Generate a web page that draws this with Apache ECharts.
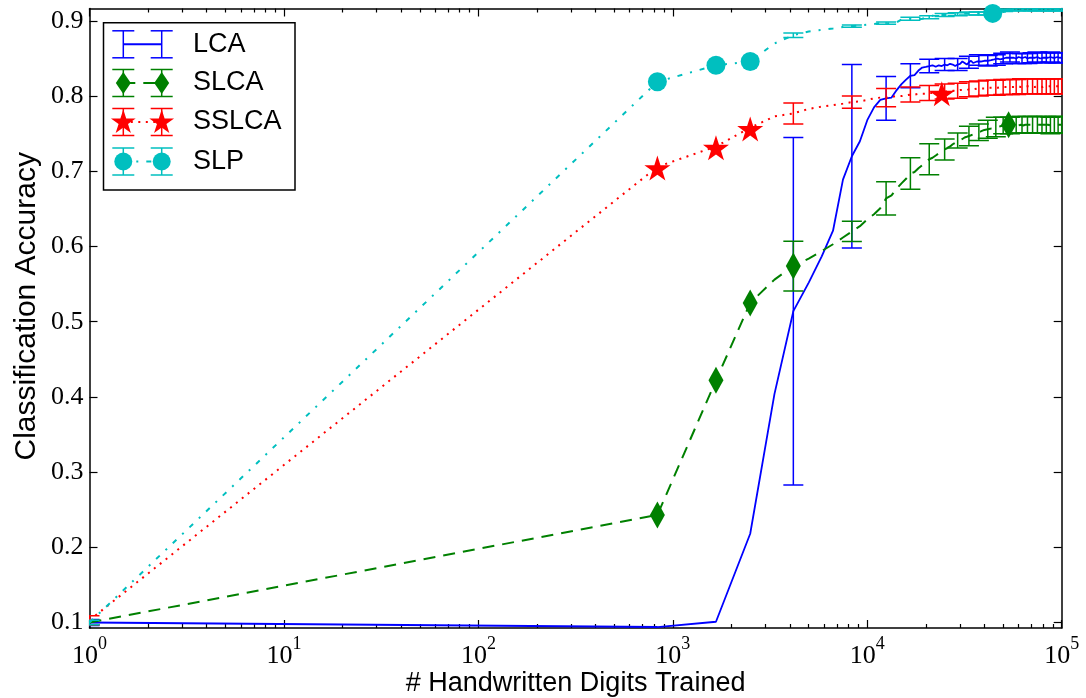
<!DOCTYPE html>
<html><head><meta charset="utf-8">
<script src="https://cdn.jsdelivr.net/npm/echarts@6/dist/echarts.min.js"></script>
<style>html,body{margin:0;padding:0;background:#fff}#c{width:1086px;height:698px}</style>
</head><body><div id="c"></div>
<script>
// ---------------- data ----------------
const seriesNames = ['LCA', 'SLCA', 'SSLCA', 'SLP'];

const trained = [
  1, 833, 1667, 2500, 3333, 4167, 5000, 5833, 6667, 7500,
  8333, 9167, 10000, 10833, 11667, 12500, 13333, 14167, 15000, 15833,
  16667, 17500, 18333, 19167, 20000, 20833, 21667, 22500, 23333, 24167,
  25000, 25833, 26667, 27500, 28333, 29167, 30000, 30833, 31667, 32500,
  33333, 34167, 35000, 35833, 36667, 37500, 38333, 39167, 40000, 40833,
  41667, 42500, 43333, 44167, 45000, 45833, 46667, 47500, 48333, 49167,
  50000, 50833, 51667, 52500, 53333, 54167, 55000, 55833, 56667, 57500,
  58333, 59167, 60000, 60833, 61667, 62500, 63333, 64167, 65000, 65833,
  66667, 67500, 68333, 69167, 70000, 70833, 71667, 72500, 73333, 74167,
  75000, 75833, 76667, 77500, 78333, 79167, 80000, 80833, 81667, 82500,
  83333, 84167, 85000, 85833, 86667, 87500, 88333, 89167, 90000, 90833,
  91667, 92500, 93333, 94167, 95000, 95833, 96667, 97500, 98333, 99167,
  100000
];

const lcaAcc = [
  0.100, 0.094, 0.101, 0.218, 0.404, 0.514, 0.552, 0.587, 0.621, 0.689,
  0.720, 0.740, 0.768, 0.785, 0.795, 0.797, 0.798, 0.808, 0.816, 0.822,
  0.827, 0.828, 0.834, 0.838, 0.839, 0.840, 0.841, 0.839, 0.841, 0.840,
  0.842, 0.841, 0.843, 0.842, 0.840, 0.842, 0.843, 0.846, 0.844, 0.842,
  0.845, 0.847, 0.844, 0.843, 0.846, 0.848, 0.846, 0.845, 0.847, 0.849,
  0.847, 0.846, 0.848, 0.850, 0.849, 0.848, 0.850, 0.851, 0.849, 0.850,
  0.850, 0.851, 0.851, 0.850, 0.851, 0.852, 0.851, 0.850, 0.851, 0.851,
  0.850, 0.851, 0.852, 0.851, 0.851, 0.850, 0.851, 0.851, 0.852, 0.851,
  0.850, 0.851, 0.851, 0.852, 0.851, 0.851, 0.850, 0.851, 0.851, 0.851,
  0.852, 0.851, 0.851, 0.850, 0.851, 0.851, 0.851, 0.852, 0.851, 0.851,
  0.851, 0.850, 0.851, 0.851, 0.851, 0.852, 0.851, 0.851, 0.851, 0.850,
  0.851, 0.851, 0.851, 0.851, 0.852, 0.851, 0.851, 0.851, 0.851, 0.851,
  0.851
];

const slcaAcc = [
  0.100, 0.243, 0.422, 0.525, 0.556, 0.574, 0.584, 0.594, 0.603, 0.612,
  0.620, 0.627, 0.636, 0.643, 0.651, 0.664, 0.668, 0.677, 0.684, 0.690,
  0.697, 0.699, 0.704, 0.708, 0.712, 0.716, 0.718, 0.721, 0.724, 0.727,
  0.729, 0.731, 0.733, 0.736, 0.738, 0.741, 0.742, 0.743, 0.745, 0.746,
  0.747, 0.748, 0.749, 0.750, 0.751, 0.752, 0.753, 0.754, 0.755, 0.755,
  0.756, 0.757, 0.757, 0.758, 0.758, 0.759, 0.759, 0.760, 0.760, 0.760,
  0.761, 0.761, 0.761, 0.761, 0.762, 0.761, 0.761, 0.762, 0.762, 0.761,
  0.762, 0.762, 0.761, 0.762, 0.762, 0.762, 0.761, 0.762, 0.762, 0.762,
  0.762, 0.761, 0.762, 0.762, 0.762, 0.762, 0.762, 0.761, 0.762, 0.762,
  0.762, 0.762, 0.762, 0.762, 0.761, 0.762, 0.762, 0.762, 0.762, 0.762,
  0.762, 0.762, 0.762, 0.762, 0.762, 0.761, 0.762, 0.762, 0.762, 0.762,
  0.762, 0.762, 0.762, 0.762, 0.762, 0.762, 0.762, 0.762, 0.762, 0.762,
  0.762
];

const sslcaAcc = [
  0.103, 0.706, 0.733, 0.758, 0.773, 0.777, 0.783, 0.786, 0.788, 0.790,
  0.792, 0.793, 0.795, 0.797, 0.798, 0.798, 0.799, 0.800, 0.800, 0.801,
  0.802, 0.802, 0.803, 0.803, 0.803, 0.804, 0.804, 0.804, 0.805, 0.805,
  0.806, 0.806, 0.806, 0.807, 0.807, 0.807, 0.808, 0.808, 0.808, 0.808,
  0.809, 0.809, 0.809, 0.809, 0.810, 0.810, 0.810, 0.810, 0.810, 0.810,
  0.811, 0.811, 0.811, 0.811, 0.811, 0.811, 0.811, 0.811, 0.812, 0.812,
  0.812, 0.812, 0.812, 0.812, 0.812, 0.812, 0.812, 0.812, 0.812, 0.812,
  0.812, 0.812, 0.813, 0.812, 0.812, 0.813, 0.812, 0.812, 0.813, 0.812,
  0.813, 0.812, 0.813, 0.813, 0.812, 0.813, 0.813, 0.812, 0.813, 0.813,
  0.813, 0.812, 0.813, 0.813, 0.813, 0.813, 0.812, 0.813, 0.813, 0.813,
  0.813, 0.813, 0.813, 0.812, 0.813, 0.813, 0.813, 0.813, 0.813, 0.813,
  0.813, 0.813, 0.813, 0.813, 0.813, 0.813, 0.813, 0.813, 0.813, 0.813,
  0.813
];

const slpAcc = [
  0.100, 0.819, 0.841, 0.846, 0.870, 0.881, 0.886, 0.888, 0.890, 0.892,
  0.893, 0.894, 0.895, 0.896, 0.897, 0.897, 0.897, 0.898, 0.902, 0.903,
  0.903, 0.902, 0.902, 0.903, 0.904, 0.905, 0.907, 0.908, 0.908, 0.908,
  0.908, 0.908, 0.909, 0.909, 0.909, 0.909, 0.909, 0.910, 0.910, 0.910,
  0.910, 0.910, 0.910, 0.910, 0.910, 0.910, 0.910, 0.910, 0.910, 0.910,
  0.910, 0.910, 0.910, 0.910, 0.913, 0.914, 0.914, 0.914, 0.914, 0.914,
  0.914, 0.914, 0.915, 0.914, 0.914, 0.915, 0.914, 0.914, 0.915, 0.914,
  0.915, 0.914, 0.915, 0.915, 0.914, 0.915, 0.915, 0.914, 0.915, 0.915,
  0.915, 0.914, 0.915, 0.915, 0.915, 0.915, 0.914, 0.915, 0.915, 0.915,
  0.915, 0.915, 0.915, 0.914, 0.915, 0.915, 0.915, 0.915, 0.915, 0.915,
  0.915, 0.915, 0.915, 0.915, 0.915, 0.915, 0.915, 0.915, 0.915, 0.915,
  0.915, 0.915, 0.915, 0.915, 0.915, 0.915, 0.915, 0.915, 0.915, 0.915,
  0.915
];

// samples that carry an error bar, and the half-width of each bar
const errIdx = [0, 5, 10, 15, 20, 25, 30, 35, 40, 45, 50, 55, 60, 65, 70, 75, 80, 85, 90, 95, 100, 105, 110, 115, 120];
const lcaErr   = [0.004, 0.231, 0.122, 0.029, 0.016, 0.009, 0.008, 0.008, 0.008, 0.007, 0.007, 0.007, 0.007, 0.0065, 0.0065, 0.0065, 0.0065, 0.0065, 0.0065, 0.0065, 0.0065, 0.0065, 0.0065, 0.0065, 0.0065];
const slcaErr  = [0.003, 0.033, 0.0135, 0.022, 0.021, 0.0205, 0.014, 0.010, 0.013, 0.011, 0.012, 0.013, 0.011, 0.011, 0.011, 0.011, 0.011, 0.011, 0.011, 0.011, 0.011, 0.011, 0.011, 0.011, 0.011];
const sslcaErr = [0.006, 0.014, 0.008, 0.012, 0.010, 0.010, 0.010, 0.010, 0.010, 0.010, 0.010, 0.010, 0.010, 0.010, 0.010, 0.010, 0.010, 0.010, 0.010, 0.010, 0.010, 0.010, 0.010, 0.010, 0.010];
const slpErr   = [0.003, 0.003, 0.0015, 0.0015, 0.002, 0.002, 0.002, 0.002, 0.002, 0.002, 0.002, 0.002, 0.0015, 0.0015, 0.0015, 0.0015, 0.0015, 0.0015, 0.0015, 0.0015, 0.0015, 0.0015, 0.0015, 0.0015, 0.0015];

// samples that carry a marker
const lcaMarks = [];
const slcaMarks = [1, 2, 3, 5, 64];
const sslcaMarks = [1, 2, 3, 29];
const slpMarks = [1, 2, 3, 53];

const yTicks = [0.1, 0.2, 0.3, 0.4, 0.5, 0.6, 0.7, 0.8, 0.9];

// ---------------- styling ----------------
const STAR = 'path://M50,0 L61.2,34.5 L97.6,34.5 L68.2,55.9 L79.4,90.5 L50,69.1 L20.6,90.5 L31.8,55.9 L2.4,34.5 L38.8,34.5 Z';
const specs = [
  {name: seriesNames[0], y: lcaAcc, err: lcaErr, marks: lcaMarks, color: '#0000ff', dash: 'solid', symbol: 'none', size: 0, off: [0, 0]},
  {name: seriesNames[1], y: slcaAcc, err: slcaErr, marks: slcaMarks, color: '#008000', dash: [12, 8], symbol: 'diamond', size: [15, 27], off: [0, 0]},
  {name: seriesNames[2], y: sslcaAcc, err: sslcaErr, marks: sslcaMarks, color: '#ff0000', dash: [2, 5.5], symbol: STAR, size: [26, 25], off: [0, 1.3]},
  {name: seriesNames[3], y: slpAcc, err: slpErr, marks: slpMarks, color: '#00bfbf', dash: [5, 8, 2, 8], symbol: 'circle', size: 19, off: [0, 0]}
];

function errRender(color) {
  return function (params, api) {
    const x = api.value(0), y = api.value(1), e = api.value(2);
    const lo = api.coord([x, y - e]), hi = api.coord([x, y + e]);
    const w = 10;
    const st = {stroke: color, lineWidth: 1.5, fill: null};
    return {type: 'group', children: [
      {type: 'line', shape: {x1: lo[0], y1: lo[1], x2: hi[0], y2: hi[1]}, style: st},
      {type: 'line', shape: {x1: lo[0] - w, y1: lo[1], x2: lo[0] + w, y2: lo[1]}, style: st},
      {type: 'line', shape: {x1: hi[0] - w, y1: hi[1], x2: hi[0] + w, y2: hi[1]}, style: st}
    ]};
  };
}

const series = [];
specs.forEach((s, si) => {
  series.push({
    type: 'custom', name: s.name + ' err', clip: true, z: 2 + si * 2,
    encode: {x: 0, y: 1},
    renderItem: errRender(s.color),
    data: errIdx.map((idx, j) => [trained[idx], s.y[idx], s.err[j]])
  });
  series.push({
    type: 'line', name: s.name, z: 3 + si * 2, clip: true,
    showSymbol: true, showAllSymbol: true,
    symbol: s.symbol === 'none' ? 'circle' : s.symbol, symbolSize: s.size, symbolOffset: s.off,
    itemStyle: {color: s.color, borderWidth: 0},
    lineStyle: {color: s.color, width: s.dash === 'solid' ? 1.8 : 2, type: s.dash, cap: 'butt'},
    data: trained.map((x, i) => s.marks.includes(i) ? [x, s.y[i]] : {value: [x, s.y[i]], symbol: 'none'}),
    emphasis: {disabled: true}
  });
});

// minor tick positions (in decades) for the log axis
const minorLog = [];
for (let d = 0; d < 5; d++) for (let m = 2; m <= 9; m++) minorLog.push(d + Math.log10(m));

const axLine = {show: true, onZero: false, lineStyle: {color: '#000', width: 1.5}};
const tickStyle = {color: '#000', width: 1.2};

// ---------------- legend (graphic) ----------------
const legRowY = [44.3, 83, 122, 161.5];
const legX = [123.3, 161.7];
const graphic = [{type: 'rect', shape: {x: 103.5, y: 22.7, width: 191.5, height: 167.3}, style: {fill: '#fff', stroke: '#000', lineWidth: 1.5}, z: 100}];
function starPoints(cx, cy, r) {
  const pts = [];
  for (let k = 0; k < 10; k++) {
    const ang = Math.PI / 2 + k * Math.PI / 5;
    const rr = k % 2 === 0 ? r : r * 0.382;
    pts.push([cx + rr * Math.cos(ang), cy - rr * Math.sin(ang)]);
  }
  return pts;
}
specs.forEach((s, i) => {
  const y = legRowY[i];
  const st = {stroke: s.color, lineWidth: 1.5, fill: null};
  graphic.push({type: 'line', shape: {x1: legX[0], y1: y, x2: legX[1], y2: y}, style: {stroke: s.color, lineWidth: 2, lineDash: s.dash === 'solid' ? null : s.dash}, z: 101});
  legX.forEach(x => {
    graphic.push({type: 'line', shape: {x1: x, y1: y - 13.5, x2: x, y2: y + 13.5}, style: st, z: 101});
    graphic.push({type: 'line', shape: {x1: x - 11, y1: y - 13.5, x2: x + 11, y2: y - 13.5}, style: st, z: 101});
    graphic.push({type: 'line', shape: {x1: x - 11, y1: y + 13.5, x2: x + 11, y2: y + 13.5}, style: st, z: 101});
    if (i === 1) graphic.push({type: 'polygon', shape: {points: [[x, y - 11], [x + 7.5, y], [x, y + 11], [x - 7.5, y]]}, style: {fill: s.color}, z: 102});
    if (i === 2) graphic.push({type: 'polygon', shape: {points: starPoints(x, y + 0.5, 13)}, style: {fill: s.color}, z: 102});
    if (i === 3) graphic.push({type: 'circle', shape: {cx: x, cy: y, r: 9}, style: {fill: s.color}, z: 102});
  });
  graphic.push({type: 'text', x: 193, y: y, style: {text: s.name, font: '27px "Liberation Sans"', fill: '#000', textVerticalAlign: 'middle', verticalAlign: 'middle'}, z: 102});
});

const chart = echarts.init(document.getElementById('c'), null, {renderer: 'canvas'});
chart.setOption({
  animation: false,
  backgroundColor: '#fff',
  textStyle: {fontFamily: 'Liberation Sans', color: '#000'},
  grid: {left: 89.5, right: 24.3, top: 8.5, bottom: 70, containLabel: false, outerBoundsMode: 'none'},
  xAxis: [
    {type: 'log', logBase: 10, min: 1, max: 100000, position: 'bottom',
      axisLine: axLine,
      axisTick: {show: true, inside: true, length: 8, lineStyle: tickStyle},
      axisLabel: {show: true, margin: 7, color: '#000', hideOverlap: false,
        formatter: v => '{a|10}{b|' + Math.round(Math.log10(v)) + '}',
        rich: {
          a: {fontFamily: 'Liberation Serif', fontSize: 26, lineHeight: 34, verticalAlign: 'bottom', color: '#000'},
          b: {fontFamily: 'Liberation Serif', fontSize: 18, lineHeight: 18, verticalAlign: 'top', color: '#000'}
        }},
      splitLine: {show: false},
      name: '# Handwritten Digits Trained', nameLocation: 'middle', nameGap: 42, nameMoveOverlap: false,
      nameTextStyle: {fontFamily: 'Liberation Sans', fontSize: 27, color: '#000'}},
    {type: 'value', min: 0, max: 5, position: 'bottom',
      axisLine: {show: false}, axisLabel: {show: false}, splitLine: {show: false},
      axisTick: {show: true, inside: true, length: 4, customValues: minorLog, lineStyle: tickStyle}},
    {type: 'log', logBase: 10, min: 1, max: 100000, position: 'top',
      axisLine: axLine, axisLabel: {show: false}, splitLine: {show: false},
      axisTick: {show: true, inside: true, length: 8, lineStyle: tickStyle}},
    {type: 'value', min: 0, max: 5, position: 'top',
      axisLine: {show: false}, axisLabel: {show: false}, splitLine: {show: false},
      axisTick: {show: true, inside: true, length: 4, customValues: minorLog, lineStyle: tickStyle}}
  ],
  yAxis: [
    {type: 'value', min: 0.0927, max: 0.9165, position: 'left',
      axisLine: axLine,
      axisTick: {show: true, inside: true, length: 8, customValues: yTicks, lineStyle: tickStyle},
      axisLabel: {show: true, customValues: yTicks, formatter: v => v.toFixed(1), margin: 6,
        fontFamily: 'Liberation Serif', fontSize: 26, color: '#000'},
      splitLine: {show: false},
      name: 'Classification Accuracy', nameLocation: 'middle', nameGap: 48, nameMoveOverlap: false,
      nameTextStyle: {fontFamily: 'Liberation Sans', fontSize: 30, color: '#000', padding: [0, 0, 0, 24]}},
    {type: 'value', min: 0.0927, max: 0.9165, position: 'right',
      axisLine: axLine, axisLabel: {show: false}, splitLine: {show: false},
      axisTick: {show: true, inside: true, length: 8, customValues: yTicks, lineStyle: tickStyle}}
  ],
  series: series,
  graphic: graphic
});
</script>
</body></html>
